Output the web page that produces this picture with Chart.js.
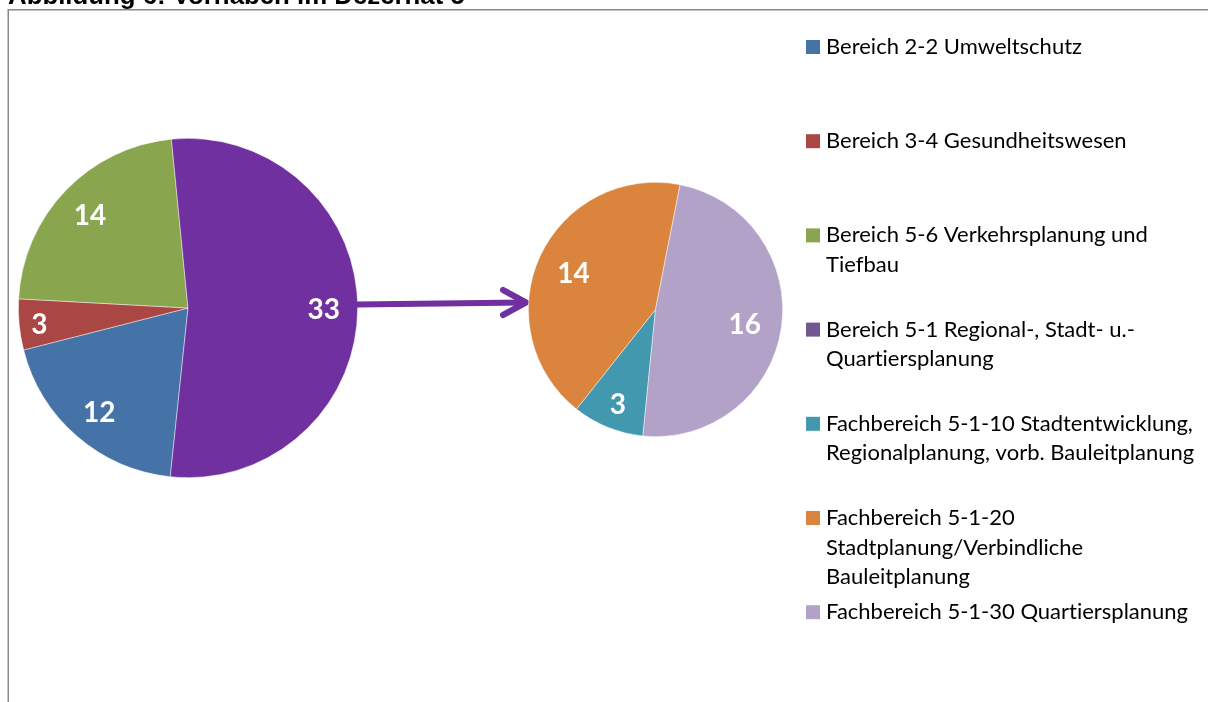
<!DOCTYPE html>
<html lang="de">
<head>
<meta charset="utf-8">
<title>Vorhaben im Dezernat 5</title>
<script src="https://cdn.jsdelivr.net/npm/chart.js@4.4.1/dist/chart.umd.min.js"></script>
<style>
  html, body { margin: 0; padding: 0; background: #fff; overflow: hidden; }
  #wrap { position: relative; width: 1208px; height: 702px; }
  #mainChart { position: absolute; left: 0; top: 0; }
  #subChart { position: absolute; left: 528px; top: 182px; }
</style>
</head>
<body>
<div id="wrap">
  <canvas id="mainChart" width="1208" height="702"></canvas>
  <canvas id="subChart" width="255" height="255"></canvas>
</div>
<script>
// ============================================================
// Daten
// ============================================================

const titleText = 'Abbildung 6: Vorhaben im Dezernat 5';

// Legende – Zeilenumbrüche wie in der Vorlage
const categories = [
  'Bereich 2-2 Umweltschutz',
  'Bereich 3-4 Gesundheitswesen',
  'Bereich 5-6 Verkehrsplanung und\nTiefbau',
  'Bereich 5-1 Regional-, Stadt- u.-\nQuartiersplanung',
  'Fachbereich 5-1-10 Stadtentwicklung,\nRegionalplanung, vorb. Bauleitplanung',
  'Fachbereich 5-1-20\nStadtplanung/Verbindliche\nBauleitplanung',
  'Fachbereich 5-1-30 Quartiersplanung'
];
const legendColors = ['#4572A7', '#AA4643', '#89A54E', '#71588F', '#4198AF', '#DB843D', '#B3A2C7'];

// Dezernat 5 gesamt
const mainLabels = categories.slice(0, 4);
const mainValues = [12, 3, 14, 33];
const mainColors = ['#4572A7', '#AA4643', '#89A54E', '#7030A0'];

// Aufteilung Bereich 5-1
const subLabels = categories.slice(4);
const subValues = [3, 14, 16];
const subColors = ['#4198AF', '#DB843D', '#B3A2C7'];

// ============================================================
// Plugins
// ============================================================

/**
 * Werte in die Segmente schreiben
 */
const sliceLabels = {
  id: 'sliceLabels',
  afterDatasetsDraw(chart, args, opts) {
    const ctx = chart.ctx;
    const meta = chart.getDatasetMeta(0);
    const values = chart.data.datasets[0].data;
    ctx.save();
    ctx.font = 'bold 28px Lato';
    ctx.fillStyle = '#ffffff';
    ctx.textAlign = 'center';
    ctx.textBaseline = 'middle';
    meta.data.forEach((arc, i) => {
      const p = arc.getProps(['x', 'y', 'startAngle', 'endAngle', 'outerRadius'], true);
      const mid = (p.startAngle + p.endAngle) / 2;
      // kleine Segmente: Beschriftung weiter nach außen
      const f = opts.radius + ((p.endAngle - p.startAngle) < 0.7 ? 0.08 : 0);
      ctx.fillText(String(values[i]),
        p.x + Math.cos(mid) * p.outerRadius * f,
        p.y + Math.sin(mid) * p.outerRadius * f + 2);
    });
    ctx.restore();
  }
};

/**
 * Rahmen, Titel, Pfeil und Legende
 */
const decorations = {
  id: 'decorations',
  beforeDraw(chart) {
    const ctx = chart.ctx;
    ctx.save();
    ctx.strokeStyle = '#8a8a8a';
    ctx.lineWidth = 1.5;
    ctx.strokeRect(8.25, 9.75, 1400, 1000);

    ctx.font = 'bold 25.8px "Liberation Sans"';
    ctx.fillStyle = '#000000';
    ctx.textBaseline = 'alphabetic';
    ctx.fillText(titleText, 8, 4);
    ctx.restore();
  },
  afterDraw(chart) {
    const ctx = chart.ctx;
    ctx.save();

    // Pfeil zum Detail-Kreis
    ctx.strokeStyle = '#7030A0';
    ctx.lineWidth = 6;
    ctx.lineCap = 'round';
    ctx.lineJoin = 'round';
    ctx.beginPath();
    ctx.moveTo(356, 304.5);
    ctx.lineTo(525, 302.5);
    ctx.stroke();
    ctx.beginPath();
    ctx.moveTo(503, 290);
    ctx.lineTo(526, 302.5);
    ctx.lineTo(503, 315);
    ctx.stroke();

    // Legende (ohne Ligaturen, wie Calibri in der Vorlage)
    ctx.font = '22px Lato';
    ctx.textRendering = 'optimizeSpeed';
    ctx.textBaseline = 'middle';
    categories.forEach((label, i) => {
      const y = 47 + i * 94.2;
      ctx.fillStyle = legendColors[i];
      ctx.fillRect(806, y - 7, 14, 14);
      ctx.fillStyle = '#000000';
      label.split('\n').forEach((line, k) => {
        ctx.fillText(line, 826, y + k * 29.5);
      });
    });
    ctx.restore();
  }
};

// ============================================================
// Diagramme
// ============================================================

const pieOptions = (rotation, labelRadius, padding) => ({
  responsive: false,
  animation: false,
  rotation: rotation,
  layout: { padding: padding },
  plugins: {
    legend: { display: false },
    tooltip: { enabled: false },
    sliceLabels: { radius: labelRadius }
  }
});

new Chart(document.getElementById('mainChart').getContext('2d'), {
  type: 'pie',
  data: {
    labels: mainLabels,
    datasets: [{
      data: mainValues,
      backgroundColor: mainColors,
      borderColor: 'rgba(255,255,255,0.6)',
      borderWidth: 0.75
    }]
  },
  options: pieOptions(186, 0.8, { left: 18, top: 138, right: 850, bottom: 224 }),
  plugins: [decorations, sliceLabels]
});

new Chart(document.getElementById('subChart').getContext('2d'), {
  type: 'pie',
  data: {
    labels: subLabels,
    datasets: [{
      data: subValues,
      backgroundColor: subColors,
      borderColor: 'rgba(255,255,255,0.6)',
      borderWidth: 0.75
    }]
  },
  options: pieOptions(185.7, 0.71, 0),
  plugins: [sliceLabels]
});
</script>
</body>
</html>
